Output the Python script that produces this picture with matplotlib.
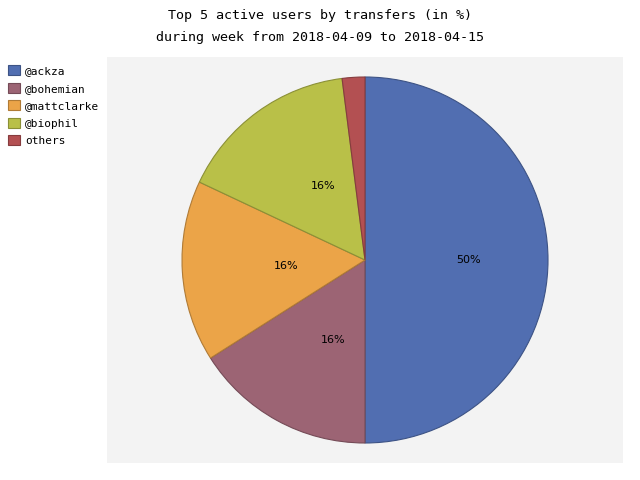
import matplotlib
matplotlib.use("Agg")
import matplotlib.pyplot as plt
import matplotlib.colors as mcolors

users = ["@ackza", "@bohemian", "@mattclarke", "@biophil", "others"]
transfers = [25, 8, 8, 8, 1]
colors = ["#516eb1", "#9c6474", "#eba448", "#b9c048", "#b35052"]

def darker(c, f=0.75):
    r, g, b = mcolors.to_rgb(c)
    return (r * f, g * f, b * f)

def pct(p):
    # small slices get no label
    return "%1.0f%%" % p if p >= 5 else ""

fig = plt.figure(figsize=(6.4, 4.8), dpi=100)
ax = fig.add_axes([107 / 640, 1 - 463 / 480, 516 / 640, 406 / 480])
ax.set_facecolor("#f3f3f3")

wedges, texts, autotexts = ax.pie(
    transfers, colors=colors, startangle=90, counterclock=False,
    autopct=pct, pctdistance=0.5,
    wedgeprops={"linewidth": 0.8}, textprops={"fontsize": 8, "color": "black"})
for w, c in zip(wedges, colors):
    w.set_edgecolor(darker(c))
for t in autotexts:
    t.set_ha("left")

r = 183.0
ax.set_xlim(-258 / r, 258 / r)
ax.set_ylim(-203 / r, 203 / r)
ax.set_aspect("auto")
ax.set_xticks([])
ax.set_yticks([])
# pie() turns the frame off, bring back the grey background
ax.set_frame_on(True)
ax.patch.set_visible(True)
for s in ax.spines.values():
    s.set_visible(False)

fig.text(0.5, 1 - 16 / 480, "Top 5 active users by transfers (in %)",
         ha="center", va="center", family="DejaVu Sans Mono", fontsize=9.6)
fig.text(0.5, 1 - 37 / 480, "during week from 2018-04-09 to 2018-04-15",
         ha="center", va="center", family="DejaVu Sans Mono", fontsize=9.6)

leg = fig.legend(wedges, users, loc="upper left", bbox_to_anchor=(4 / 640, 1 - 61 / 480),
                 frameon=False, handlelength=1.0, handleheight=1.0, handletextpad=0.5,
                 labelspacing=0.6, borderaxespad=0,
                 prop={"family": "DejaVu Sans Mono", "size": 8})

fig.savefig("out.png", dpi=100)
